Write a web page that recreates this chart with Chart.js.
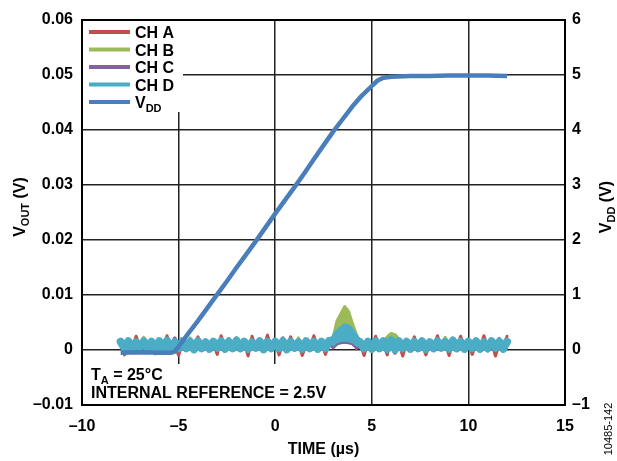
<!DOCTYPE html>
<html>
<head>
<meta charset="utf-8">
<script src="https://cdn.jsdelivr.net/npm/chart.js@4.4.1/dist/chart.umd.min.js"></script>
<style>
  html, body { margin: 0; padding: 0; background: #fff; }
  canvas { display: block; }
</style>
</head>
<body>
<canvas id="c" width="617" height="461"></canvas>
<script>
// Power-on glitch: DAC outputs (CH A..D, left axis, V) and VDD (right axis, V) vs time (µs)

// scope sample times for the four outputs, µs
const TIME = [
  -8, -7.8, -7.6, -7.4, -7.2, -7, -6.8, -6.6, -6.4, -6.2,
  -6, -5.8, -5.6, -5.4, -5.2, -5, -4.8, -4.6, -4.4, -4.2,
  -4, -3.8, -3.6, -3.4, -3.2, -3, -2.8, -2.6, -2.4, -2.2,
  -2, -1.8, -1.6, -1.4, -1.2, -1, -0.8, -0.6, -0.4, -0.2,
  0, 0.2, 0.4, 0.6, 0.8, 1, 1.2, 1.4, 1.6, 1.8,
  2, 2.2, 2.4, 2.6, 2.8, 3, 3.2, 3.4, 3.6, 3.8,
  4, 4.2, 4.4, 4.6, 4.8, 5, 5.2, 5.4, 5.6, 5.8,
  6, 6.2, 6.4, 6.6, 6.8, 7, 7.2, 7.4, 7.6, 7.8,
  8, 8.2, 8.4, 8.6, 8.8, 9, 9.2, 9.4, 9.6, 9.8,
  10, 10.2, 10.4, 10.6, 10.8, 11, 11.2, 11.4, 11.6, 11.8,
  12,
];

// output values in mV (noise band + glitch near 3.7 µs)
const CH_A_MV = [
  1.2, -0.9, 1.0, 0.5, 2.5, 0.6, 1.1, 0.4, 1.3, -0.7,
  1.2, 0.5, 2.6, 0.6, 1.0, -1.0, 1.3, 0.4, 1.1, 0.5,
  2.4, 0.6, 1.2, 0.4, 1.0, -0.8, 2.6, 0.5, 1.3, 0.4,
  1.1, 0.5, 1.2, -1.1, 2.5, 0.6, 1.0, 0.4, 2.7, 0.5,
  1.3, -0.9, 1.1, 0.5, 2.4, 0.4, 1.2, -1.0, 1.0, 0.6,
  2.6, 0.5, 1.3, -0.8, 1.2, 0.4, 2.6, 1.7, 4.9, 1.8,
  3.0, 0.3, 1.4, -1.0, 1.2, 0.5, 2.5, 0.4, 1.1, -0.9,
  2.7, 0.5, 1.2, -1.1, 1.3, 0.6, 2.4, 0.4, 1.0, -0.9,
  1.2, 0.5, 2.6, 0.4, 1.1, -1.0, 1.3, 0.6, 2.5, 0.5,
  1.2, -0.8, 1.0, 0.4, 2.6, 0.5, 1.3, -1.1, 1.1, 0.6,
  2.5,
];
const CH_B_MV = [
  1.3, 0.4, 1.2, 0.5, 1.4, 0.3, 2.3, 0.4, 1.2, 0.5,
  1.3, 0.4, 1.1, 0.5, 1.4, 0.3, 1.2, 0.4, 2.2, 0.5,
  1.3, 0.3, 1.2, 0.4, 1.4, 0.5, 1.1, 0.3, 1.3, 0.4,
  2.3, 0.5, 1.2, 0.3, 1.4, 0.4, 1.2, 0.5, 1.1, 0.3,
  1.3, 0.4, 1.2, 0.5, 1.4, 0.3, 2.2, 0.4, 1.2, 0.5,
  1.3, 0.4, 1.1, 0.3, 1.4, 2.3, 5.3, 6.6, 7.9, 7.0,
  4.8, 2.8, 1.6, 0.4, 1.3, 0.5, 1.4, 0.3, 1.5, 2.4,
  3.0, 2.8, 2.0, 1.2, 1.2, 0.5, 1.3, 0.4, 1.1, -0.3,
  1.4, 0.5, 1.2, 0.3, 2.3, 0.4, 1.3, 0.5, 1.1, 0.4,
  1.4, 0.3, 1.2, 0.5, 1.3, -0.2, 1.1, 0.4, 1.3, 0.5,
  1.2,
];
const CH_C_MV = [
  1.2, 0.5, 1.3, 0.4, 1.1, 0.4, 1.2, 0.5, 1.3, 0.4,
  1.1, 0.5, 1.2, 0.4, 2.1, 0.5, 1.3, 0.3, 1.2, 0.4,
  1.1, 0.5, 1.3, 0.4, 1.2, 0.5, 1.1, 0.4, 2.0, 0.5,
  1.2, 0.3, 1.3, 0.5, 1.1, 0.4, 1.2, 0.5, 1.3, 0.4,
  1.1, 0.5, 2.1, 0.4, 1.2, 0.5, 1.3, 0.3, 1.1, 0.4,
  1.2, 0.5, 1.3, 0.4, 1.2, 0.6, 1.2, 1.4, 1.5, 1.4,
  1.2, 0.6, 0.5, 0.4, 1.2, 0.5, 1.3, 0.3, 1.1, -0.3,
  1.0, -0.5, 1.2, 0.2, 1.3, 0.4, 1.1, 0.5, 1.2, 0.4,
  1.3, 0.4, 1.1, 0.5, 1.2, 0.4, 2.1, 0.5, 1.3, 0.4,
  1.1, 0.3, 1.2, 0.4, 1.3, 0.5, 1.1, 0.4, 2.0, 0.5,
  1.2,
];
const CH_D_MV = [
  1.5, 0.3, 1.6, 0.2, 1.4, 0.4, 1.6, 0.3, 1.5, 0.2,
  1.6, 0.4, 1.7, 0.2, 1.4, 0.3, 1.6, 0.3, 1.5, 0.1,
  1.6, 0.3, 1.4, 0.2, 1.5, 0.4, 1.6, 0.2, 1.5, 0.3,
  1.7, 0.3, 1.5, 0.2, 1.4, 0.4, 1.6, 0.1, 1.5, 0.3,
  1.5, 0.3, 1.6, 0.1, 1.5, 0.4, 1.4, 0.2, 1.6, 0.3,
  1.5, 0.2, 1.5, 0.3, 1.7, 1.7, 2.8, 3.5, 4.1, 3.8,
  2.9, 1.8, 1.4, 0.3, 1.5, 0.2, 1.6, 0.3, 1.6, 0.2,
  1.8, 0.1, 1.6, 0.3, 1.5, 0.2, 1.5, 0.3, 1.6, 0.2,
  1.4, 0.3, 1.6, 0.4, 1.5, 0.2, 1.7, 0.3, 1.5, 0.2,
  1.5, 0.3, 1.6, 0.2, 1.4, 0.3, 1.6, 0.4, 1.5, 0.2,
  1.5,
];

// supply ramp, µs / V
const VDD_TIME = [
  -8, -7, -6, -5.4, -5.2, -5, -4.5, -4, -3.5, -3,
  -2.5, -2, -1.5, -1, -0.5, 0, 0.5, 1, 1.5, 2,
  2.5, 3, 3.5, 4, 4.5, 5, 5.3, 5.6, 6, 7,
  8, 9, 10, 11, 12,
];
const VDD_V = [
  -0.05, -0.04, -0.05, -0.05, -0.03, 0.06, 0.3, 0.53, 0.77, 1.01,
  1.25, 1.5, 1.74, 1.98, 2.23, 2.48, 2.72, 2.96, 3.21, 3.47,
  3.72, 3.97, 4.2, 4.43, 4.63, 4.8, 4.9, 4.95, 4.97, 4.98,
  4.98, 4.99, 4.99, 4.99, 4.98,
];

// fillTo: dataset index whose trace the band is shaded down to (scope persistence look)
const SERIES = [
  { label: "CH A", mv: CH_A_MV, color: "#c0504d", width: 3, fillTo: null },
  { label: "CH B", mv: CH_B_MV, color: "#9bbb59", width: 3, fillTo: 3 },
  { label: "CH C", mv: CH_C_MV, color: "#8064a2", width: 4, fillTo: null },
  { label: "CH D", mv: CH_D_MV, color: "#4bacc6", width: 8, fillTo: 2 },
];
const VDD_COLOR = "#4a7ebb";

const FONT = "'Liberation Sans', Arial, sans-serif";
const DASH = "\u2013";

/** "–0.01" style labels, as on the datasheet plot */
function fmt(v, digits) {
  const r = Math.round(v * 100) / 100;
  if (r === 0) return "0";
  return (r < 0 ? DASH : "") + Math.abs(r).toFixed(digits);
}

/** main text + subscript + tail, left to right from x on baseline y */
function subText(ctx, x, y, main, sub, tail, size, subSize) {
  ctx.font = `bold ${size}px ${FONT}`;
  ctx.fillText(main, x, y);
  x += ctx.measureText(main).width;
  ctx.font = `bold ${subSize}px ${FONT}`;
  ctx.fillText(sub, x, y + 4);
  x += ctx.measureText(sub).width;
  ctx.font = `bold ${size}px ${FONT}`;
  ctx.fillText(tail, x, y);
}

function subWidth(ctx, main, sub, tail, size, subSize) {
  ctx.font = `bold ${size}px ${FONT}`;
  let w = ctx.measureText(main).width + ctx.measureText(tail).width;
  ctx.font = `bold ${subSize}px ${FONT}`;
  return w + ctx.measureText(sub).width;
}

/** rotated (bottom-to-top) title with subscript, centred at cy, baseline at screen x bx */
function vertTitle(ctx, bx, cy, main, sub, tail) {
  ctx.save();
  ctx.translate(0, cy);
  ctx.rotate(-Math.PI / 2);
  const w = subWidth(ctx, main, sub, tail, 16, 11);
  subText(ctx, -w / 2, bx, main, sub, tail, 16, 11);
  ctx.restore();
}

const decor = {
  id: "decor",
  beforeDatasetsDraw(chart) {
    const { ctx, chartArea: a } = chart;
    ctx.save();
    ctx.fillStyle = "#fff";
    // legend panel and note panel hide the grid behind them
    ctx.fillRect(a.left + 1, a.top + 1, 100, 91);
    ctx.fillRect(a.left + 1, a.bottom - 41, 255, 40);
    ctx.restore();
  },
  afterDraw(chart) {
    const { ctx, chartArea: a } = chart;
    ctx.save();
    ctx.strokeStyle = "#000";
    ctx.lineWidth = 2;
    ctx.strokeRect(a.left, a.top, a.right - a.left, a.bottom - a.top);

    // legend
    const rows = SERIES.map((s) => ({ label: s.label, color: s.color }));
    rows.push({ label: "V", sub: "DD", color: VDD_COLOR });
    ctx.fillStyle = "#000";
    ctx.textBaseline = "alphabetic";
    ctx.textAlign = "left";
    rows.forEach((r, i) => {
      const y = a.top + 12 + i * 17.5;
      ctx.strokeStyle = r.color;
      ctx.lineWidth = 4;
      ctx.beginPath();
      ctx.moveTo(a.left + 7, y);
      ctx.lineTo(a.left + 48, y);
      ctx.stroke();
      if (r.sub) subText(ctx, a.left + 53, y + 6, r.label, r.sub, "", 16, 11);
      else {
        ctx.font = `bold 16px ${FONT}`;
        ctx.fillText(r.label, a.left + 53, y + 6);
      }
    });

    // conditions note
    subText(ctx, a.left + 9, a.bottom - 25, "T", "A", " = 25°C", 16, 11);
    ctx.font = `bold 16px ${FONT}`;
    ctx.fillText("INTERNAL REFERENCE = 2.5V", a.left + 9, a.bottom - 7);

    // axis titles
    ctx.textAlign = "center";
    ctx.fillText("TIME (µs)", (a.left + a.right) / 2, 454);
    ctx.textAlign = "left";
    vertTitle(ctx, 25, 207, "V", "OUT", " (V)");
    vertTitle(ctx, 611, 207, "V", "DD", " (V)");

    // figure number
    ctx.save();
    ctx.translate(0, 429);
    ctx.rotate(-Math.PI / 2);
    ctx.font = `11px ${FONT}`;
    ctx.textAlign = "center";
    ctx.fillText("10485-142", 0, 612);
    ctx.restore();
    ctx.restore();
  },
};

const datasets = SERIES.map((s, i) => ({
  label: s.label,
  data: TIME.map((t, k) => ({ x: t, y: s.mv[k] / 1000 })),
  borderColor: s.color,
  backgroundColor: s.color,
  borderWidth: s.width,
  borderJoinStyle: "round",
  borderCapStyle: "round",
  pointRadius: 0,
  tension: 0,
  fill: s.fillTo === null ? false : { target: s.fillTo, above: s.color, below: "rgba(0,0,0,0)" },
  yAxisID: "y",
  order: 4 - i,
}));
datasets.push({
  label: "VDD",
  data: VDD_TIME.map((t, k) => ({ x: t, y: VDD_V[k] })),
  borderColor: VDD_COLOR,
  backgroundColor: VDD_COLOR,
  borderWidth: 4.5,
  borderJoinStyle: "round",
  pointRadius: 0,
  tension: 0,
  fill: false,
  yAxisID: "y2",
  order: 0,
});

Chart.defaults.font.family = FONT;
Chart.defaults.font.size = 16;
Chart.defaults.font.weight = "bold";
Chart.defaults.color = "#000";

const GRID = { color: "#222", lineWidth: 1.5, drawTicks: false };
const BORDER = { display: true, color: "#000", width: 2 };

new Chart(document.getElementById("c"), {
  type: "line",
  data: { datasets },
  plugins: [decor],
  options: {
    responsive: false,
    animation: false,
    layout: { padding: { top: 20, left: 0, right: 0, bottom: 0 } },
    plugins: { legend: { display: false }, tooltip: { enabled: false } },
    scales: {
      x: {
        type: "linear",
        min: -10,
        max: 15,
        grid: GRID,
        border: BORDER,
        ticks: {
          stepSize: 5,
          padding: 12,
          maxRotation: 0,
          autoSkip: false,
          callback: (v) => (v < 0 ? DASH + Math.abs(v) : String(v)),
        },
        afterFit: (s) => { s.height = 56; },
      },
      y: {
        position: "left",
        min: -0.01,
        max: 0.06,
        grid: GRID,
        border: BORDER,
        ticks: { stepSize: 0.01, padding: 9, callback: (v) => fmt(v, 2) },
        afterFit: (s) => { s.width = 82; },
      },
      y2: {
        position: "right",
        min: -1,
        max: 6,
        grid: { display: false, drawTicks: false },
        border: BORDER,
        ticks: {
          stepSize: 1,
          padding: 7,
          callback: (v) => (v < 0 ? DASH + Math.abs(v) : String(v)),
        },
        afterFit: (s) => { s.width = 52; },
      },
    },
  },
});
</script>
</body>
</html>
